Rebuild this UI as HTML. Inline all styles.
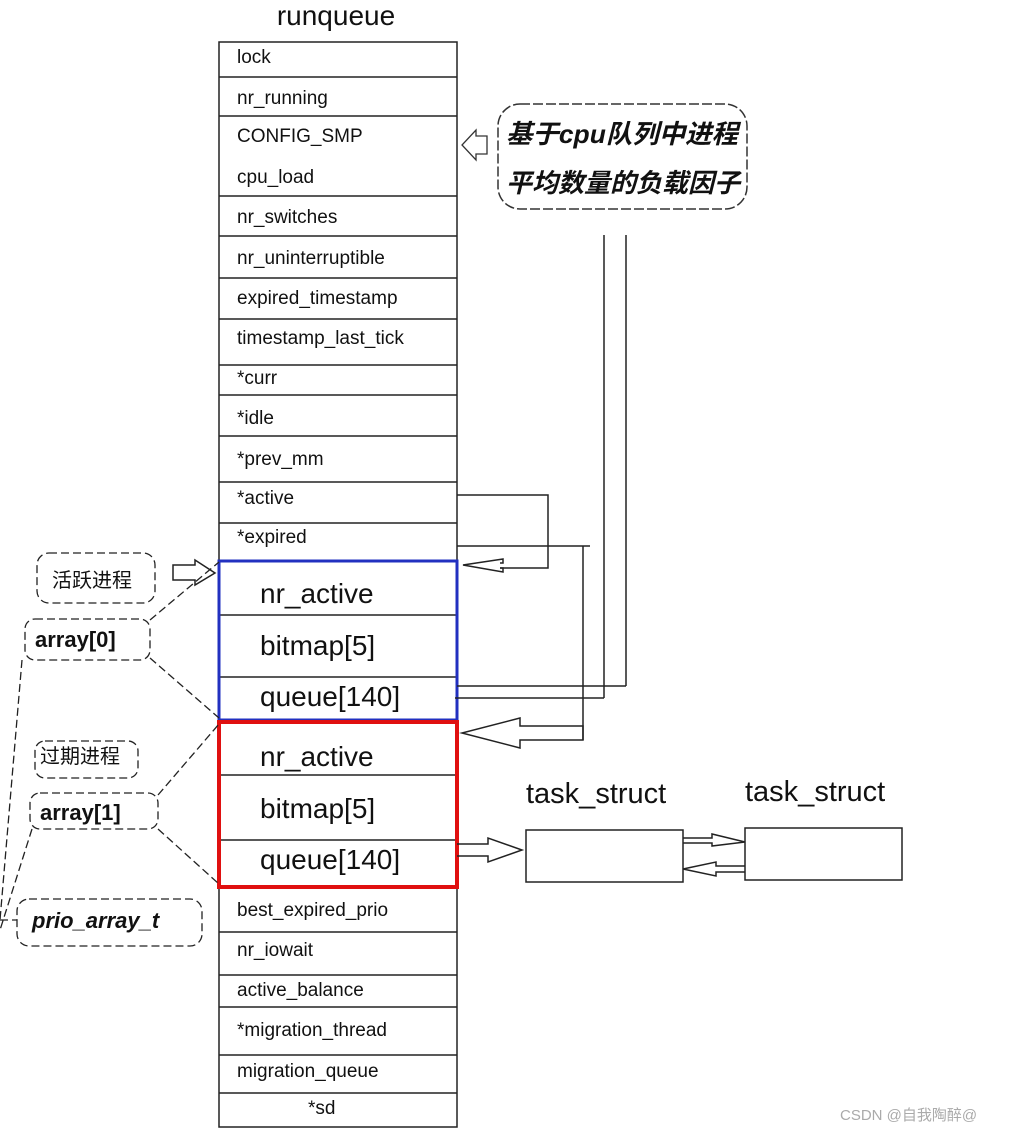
<!DOCTYPE html>
<html><head><meta charset="utf-8"><style>
html,body{margin:0;padding:0;background:#fff;}
svg{display:block}
text{font-family:"Liberation Sans","Noto Sans CJK SC",sans-serif;fill:#111}
</style></head><body>
<svg width="1009" height="1130" viewBox="0 0 1009 1130" xmlns="http://www.w3.org/2000/svg">
<text x="336" y="25" font-size="28" text-anchor="middle">runqueue</text>
<g stroke="#222" stroke-width="1.5" fill="none">
<rect x="219" y="42" width="238" height="1085"/>
<line x1="219" y1="77" x2="457" y2="77"/>
<line x1="219" y1="116" x2="457" y2="116"/>
<line x1="219" y1="196" x2="457" y2="196"/>
<line x1="219" y1="236" x2="457" y2="236"/>
<line x1="219" y1="278" x2="457" y2="278"/>
<line x1="219" y1="319" x2="457" y2="319"/>
<line x1="219" y1="365" x2="457" y2="365"/>
<line x1="219" y1="395" x2="457" y2="395"/>
<line x1="219" y1="436" x2="457" y2="436"/>
<line x1="219" y1="482" x2="457" y2="482"/>
<line x1="219" y1="523" x2="457" y2="523"/>
<line x1="219" y1="615" x2="457" y2="615"/>
<line x1="219" y1="677" x2="457" y2="677"/>
<line x1="219" y1="775" x2="457" y2="775"/>
<line x1="219" y1="840" x2="457" y2="840"/>
<line x1="219" y1="932" x2="457" y2="932"/>
<line x1="219" y1="975" x2="457" y2="975"/>
<line x1="219" y1="1007" x2="457" y2="1007"/>
<line x1="219" y1="1055" x2="457" y2="1055"/>
<line x1="219" y1="1093" x2="457" y2="1093"/>
</g>
<rect x="219" y="561" width="238" height="159" fill="none" stroke="#2230c0" stroke-width="3"/>
<rect x="219" y="722" width="238" height="165" fill="none" stroke="#e01010" stroke-width="4"/>
<g font-size="19">
<text x="237" y="63">lock</text>
<text x="237" y="104">nr_running</text>
<text x="237" y="142">CONFIG_SMP</text>
<text x="237" y="183">cpu_load</text>
<text x="237" y="223">nr_switches</text>
<text x="237" y="264">nr_uninterruptible</text>
<text x="237" y="304">expired_timestamp</text>
<text x="237" y="344">timestamp_last_tick</text>
<text x="237" y="384">*curr</text>
<text x="237" y="424">*idle</text>
<text x="237" y="465">*prev_mm</text>
<text x="237" y="504">*active</text>
<text x="237" y="543">*expired</text>
<text x="237" y="916">best_expired_prio</text>
<text x="237" y="956">nr_iowait</text>
<text x="237" y="996">active_balance</text>
<text x="237" y="1036">*migration_thread</text>
<text x="237" y="1077">migration_queue</text>
<text x="308" y="1114">*sd</text>
</g>
<g font-size="28">
<text x="260" y="603">nr_active</text>
<text x="260" y="655">bitmap[5]</text>
<text x="260" y="706">queue[140]</text>
<text x="260" y="766">nr_active</text>
<text x="260" y="818">bitmap[5]</text>
<text x="260" y="869">queue[140]</text>
<text x="526" y="803" font-size="29">task_struct</text>
<text x="745" y="801" font-size="29">task_struct</text>
</g>
<rect x="498" y="104" width="249" height="105" rx="22" fill="none" stroke="#333" stroke-width="1.5" stroke-dasharray="10,3"/>
<g font-size="26" font-weight="bold" font-style="italic">
<text x="506" y="143" textLength="232" lengthAdjust="spacingAndGlyphs">基于cpu队列中进程</text>
<text x="506" y="192" textLength="234" lengthAdjust="spacingAndGlyphs">平均数量的负载因子</text>
</g>
<path d="M487,136 L476,136 L476,130 L462,145 L476,160 L476,154 L487,154 Z" fill="none" stroke="#333" stroke-width="1.3"/>
<g stroke="#222" stroke-width="1.5" fill="none">
<polyline points="457,495 548,495 548,568 500,568"/>
<polyline points="457,546 590,546"/>
<polyline points="583,546 583,740"/>
<line x1="604" y1="235" x2="604" y2="698"/>
<line x1="626" y1="235" x2="626" y2="686"/>
<line x1="457" y1="686" x2="626" y2="686"/>
<line x1="455" y1="698" x2="604" y2="698"/>
<path d="M500,563 L503,563 L503,559 L463,565 L503,572 L503,568 L500,568"/>
<path d="M583,726 L520,726 L520,718 L462,733 L520,748 L520,740 L583,740 Z"/>
<path d="M457,844 L488,844 L488,838 L522,850 L488,862 L488,856 L457,856"/>
<rect x="526" y="830" width="157" height="52"/>
<rect x="745" y="828" width="157" height="52"/>
<path d="M683,838 L712,838 L712,834 L745,842 L712,846 L712,843 L683,843"/>
<path d="M745,866 L716,866 L716,862 L683,869 L716,876 L716,872 L745,872"/>
<path d="M173,565 L195,565 L195,560 L215,573 L195,585 L195,580 L173,580 Z"/>
</g>
<g stroke="#222" stroke-width="1.3" fill="none" stroke-dasharray="8,4">
<rect x="37" y="553" width="118" height="50" rx="12"/>
<rect x="25" y="619" width="125" height="41" rx="10"/>
<rect x="35" y="741" width="103" height="37" rx="10"/>
<rect x="30" y="793" width="128" height="36" rx="10"/>
<rect x="17" y="899" width="185" height="47" rx="12"/>
<line x1="150" y1="620" x2="219" y2="562"/>
<line x1="150" y1="658" x2="219" y2="718"/>
<line x1="158" y1="795" x2="219" y2="724"/>
<line x1="158" y1="829" x2="219" y2="884"/>
<path d="M22,660 L0,920 M32,829 L0,930 M0,920 L17,920"/>
</g>
<g font-size="20">
<text x="52" y="587">活跃进程</text>
<text x="40" y="763">过期进程</text>
</g>
<g font-size="22" font-weight="bold">
<text x="35" y="647">array[0]</text>
<text x="40" y="820">array[1]</text>
<text x="32" y="928" font-style="italic">prio_array_t</text>
</g>
<text x="840" y="1120" font-size="15" style="fill:#aaa">CSDN @自我陶醉@</text>
</svg>
</body></html>
